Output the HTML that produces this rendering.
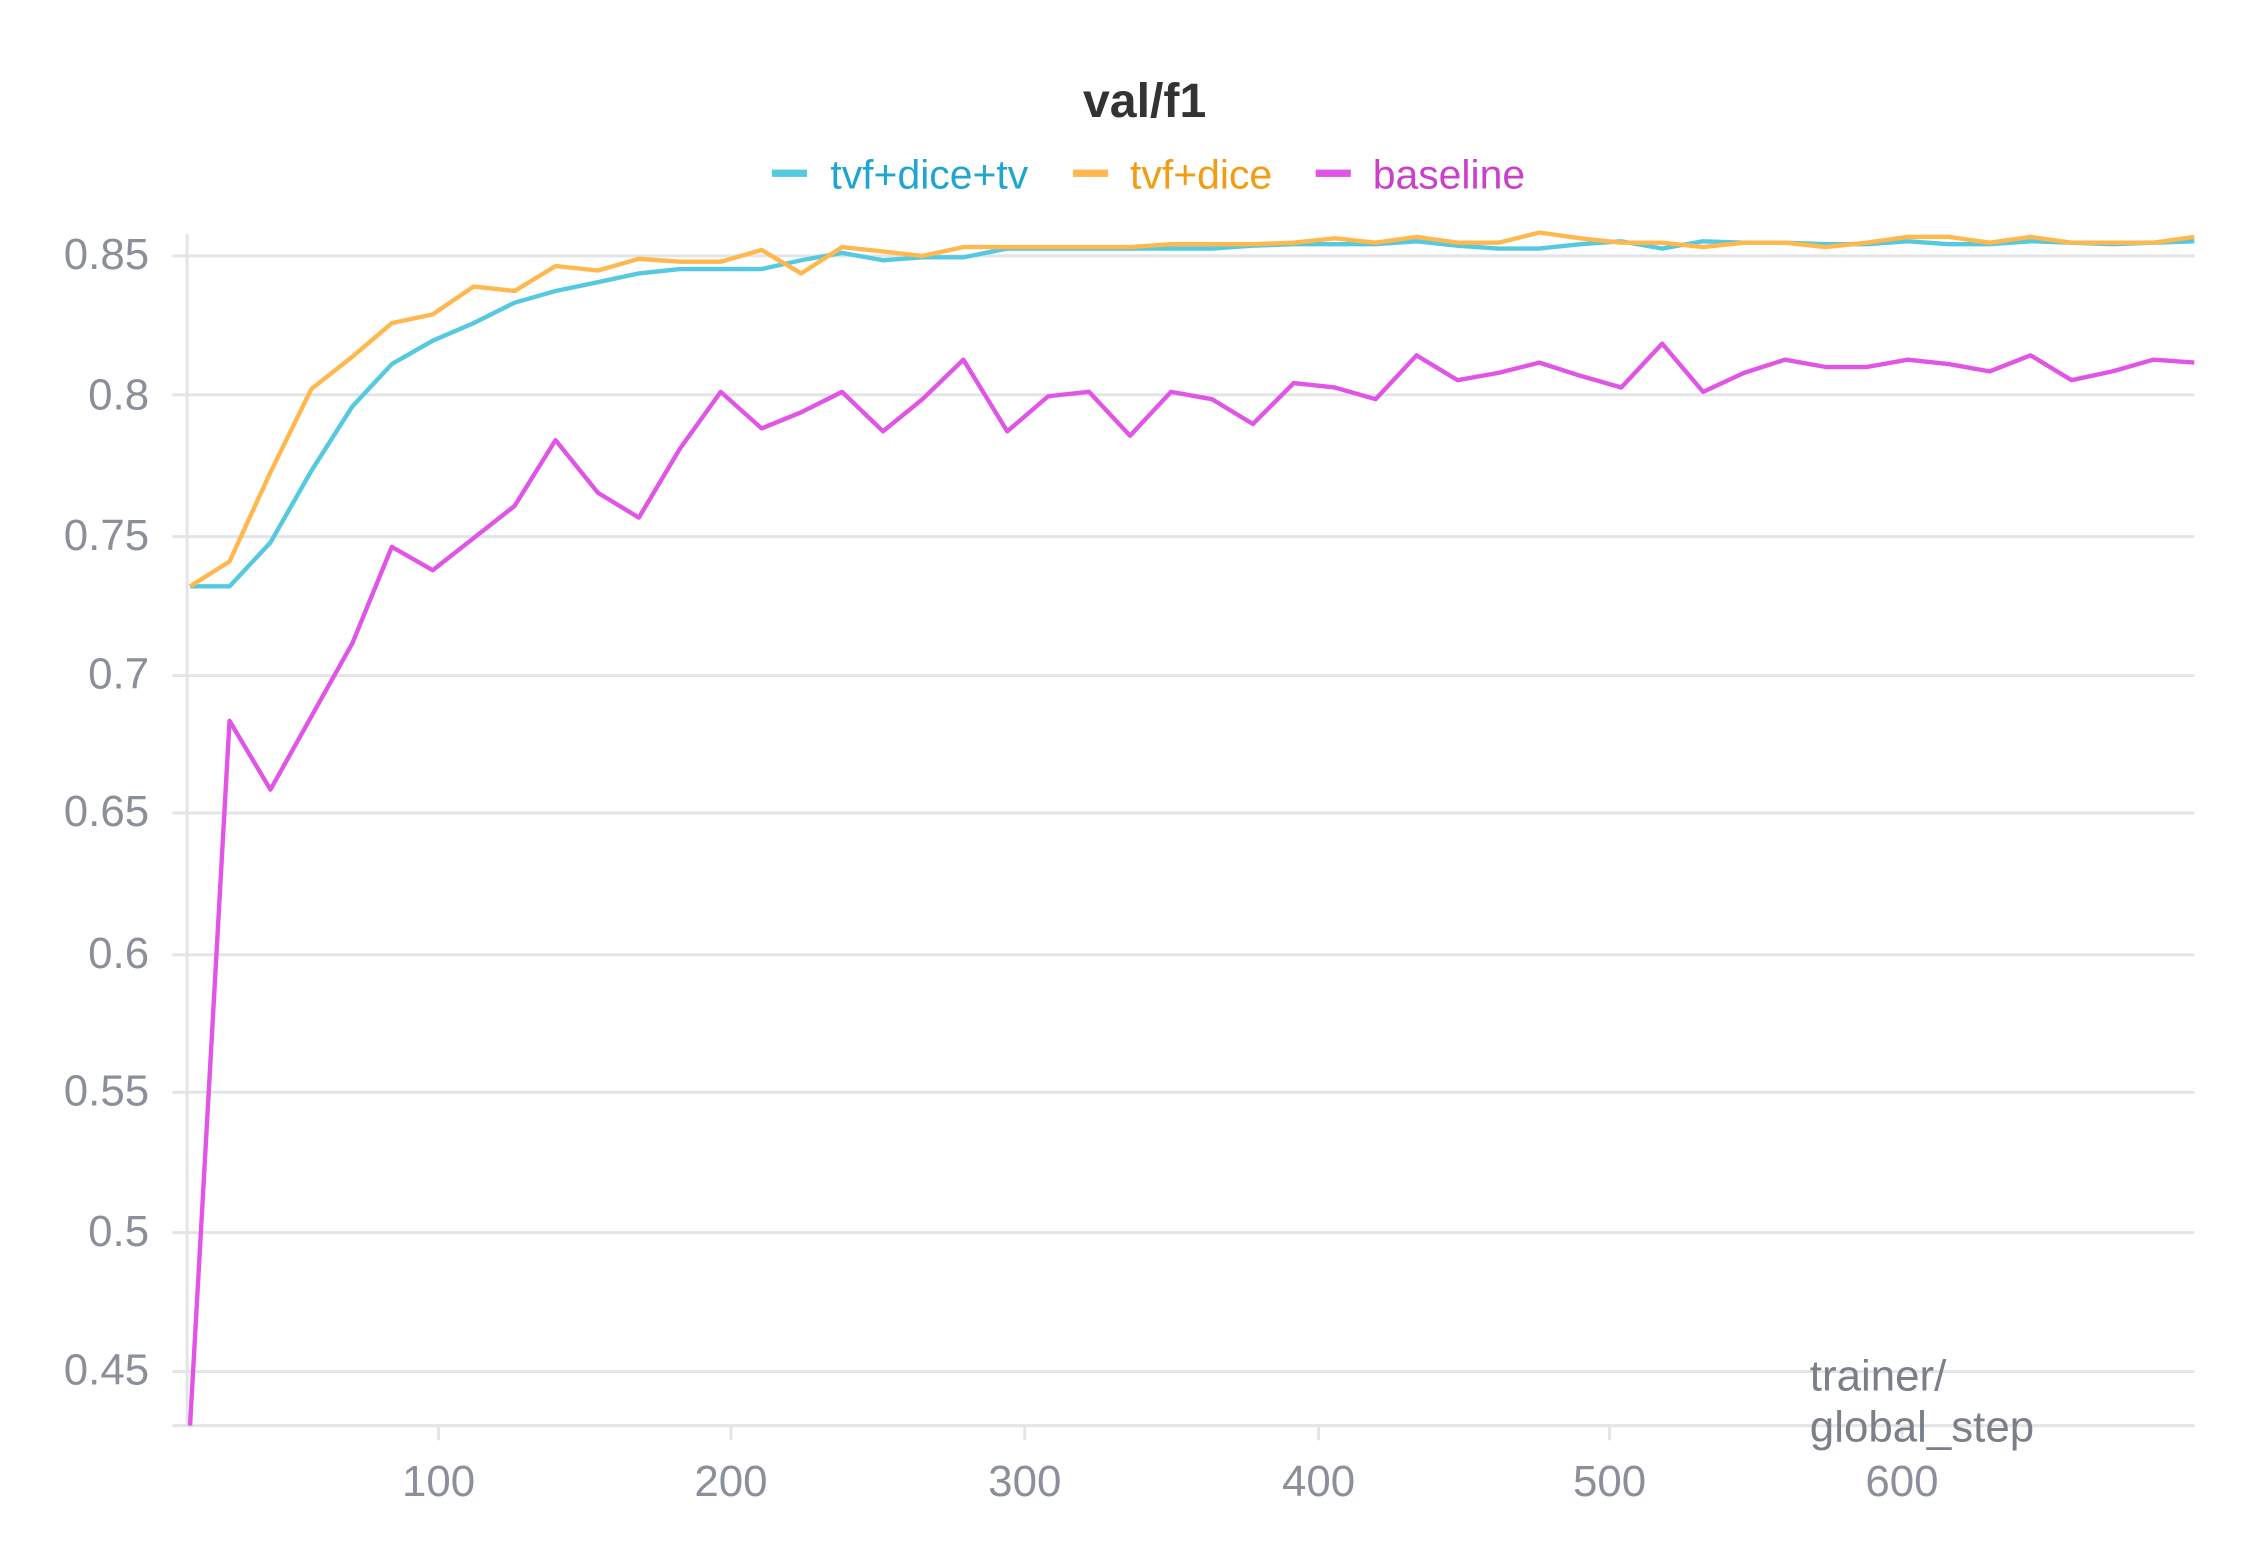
<!DOCTYPE html>
<html><head><meta charset="utf-8"><style>
html,body{margin:0;padding:0;background:#fff;}
svg{display:block;}
text{font-family:"Liberation Sans Narrow","Liberation Sans",sans-serif;}
</style></head><body>
<svg width="2263" height="1547" viewBox="0 0 1548 1058" preserveAspectRatio="none" xmlns="http://www.w3.org/2000/svg">
<rect width="1548" height="1058" fill="#fff"/>
<text x="783" y="80" text-anchor="middle" font-size="33" font-weight="bold" fill="#333">val/f1</text>
<rect x="528" y="116" width="24" height="5" fill="#55c9e0"/>
<text x="568" y="129" font-size="28" fill="#1fa5cf">tvf+dice+tv</text>
<rect x="734" y="116" width="24" height="5" fill="#ffb84d"/>
<text x="773" y="129" font-size="28" fill="#f39c12">tvf+dice</text>
<rect x="900" y="116" width="24" height="5" fill="#e055e6"/>
<text x="939" y="129" font-size="28" fill="#cc3fcc">baseline</text>
<g stroke="#e3e4e8" stroke-width="2">
<line x1="118" y1="175" x2="1501" y2="175"/><line x1="118" y1="270" x2="1501" y2="270"/>
<line x1="118" y1="367" x2="1501" y2="367"/><line x1="118" y1="462" x2="1501" y2="462"/>
<line x1="118" y1="556" x2="1501" y2="556"/><line x1="118" y1="653" x2="1501" y2="653"/>
<line x1="118" y1="747" x2="1501" y2="747"/><line x1="118" y1="843" x2="1501" y2="843"/>
<line x1="118" y1="938" x2="1501" y2="938"/>
<line x1="128" y1="160" x2="128" y2="975"/><line x1="118" y1="975" x2="1501" y2="975"/>
<line x1="300" y1="975" x2="300" y2="985"/><line x1="500" y1="975" x2="500" y2="985"/>
<line x1="701" y1="975" x2="701" y2="985"/><line x1="902" y1="975" x2="902" y2="985"/>
<line x1="1101" y1="975" x2="1101" y2="985"/><line x1="1301" y1="975" x2="1301" y2="985"/>
</g>
<g font-size="30" fill="#8a8f99" text-anchor="end">
<text x="102" y="184">0.85</text><text x="102" y="280">0.8</text><text x="102" y="376">0.75</text>
<text x="102" y="471">0.7</text><text x="102" y="565">0.65</text><text x="102" y="662">0.6</text>
<text x="102" y="756">0.55</text><text x="102" y="852">0.5</text><text x="102" y="947">0.45</text>
</g>
<g font-size="30" fill="#8a8f99" text-anchor="middle">
<text x="300" y="1023">100</text><text x="500" y="1023">200</text><text x="701" y="1023">300</text>
<text x="902" y="1023">400</text><text x="1101" y="1023">500</text><text x="1301" y="1023">600</text>
</g>
<text x="1238" y="951" font-size="30" fill="#7a7f88">trainer/</text>
<text x="1238" y="986" font-size="30" fill="#7a7f88">global_step</text>
<g fill="none" stroke-width="3" stroke-linejoin="round">
<polyline stroke="#55c9e0" points="130,401 157,401 185,371 213,322 241,278 268,249 296,233 324,221 352,207 380,199 409,193 437,187 465,184 493,184 521,184 548,178 576,173 604,178 631,176 659,176 689,170 717,170 745,170 773,170 801,170 829,170 857,168 885,167 913,167 941,167 969,165 997,168 1025,170 1053,170 1081,167 1109,165 1137,170 1165,165 1193,166 1221,166 1249,167 1277,167 1305,165 1333,167 1361,167 1389,165 1417,166 1445,167 1473,166 1501,165"/>
<polyline stroke="#ffb84d" points="130,401 157,384 185,323 213,266 241,244 268,221 296,215 324,196 352,199 380,182 409,185 437,177 465,179 493,179 521,171 548,187 576,169 604,172 631,175 659,169 689,169 717,169 745,169 773,169 801,167 829,167 857,167 885,166 913,163 941,166 969,162 997,166 1025,166 1053,159 1081,163 1109,166 1137,166 1165,169 1193,166 1221,166 1249,169 1277,166 1305,162 1333,162 1361,166 1389,162 1417,166 1445,166 1473,166 1501,162"/>
<polyline stroke="#e055e6" points="130,975 157,493 185,540 213,490 241,440 268,374 296,390 324,368 352,346 380,301 409,337 437,354 465,307 493,268 521,293 548,282 576,268 604,295 631,273 659,246 689,295 717,271 745,268 773,298 801,268 829,273 857,290 885,262 913,265 941,273 969,243 997,260 1025,255 1053,248 1081,257 1109,265 1137,235 1165,268 1193,255 1221,246 1249,251 1277,251 1305,246 1333,249 1361,254 1389,243 1417,260 1445,254 1473,246 1501,248"/>
</g>
</svg>
</body></html>
